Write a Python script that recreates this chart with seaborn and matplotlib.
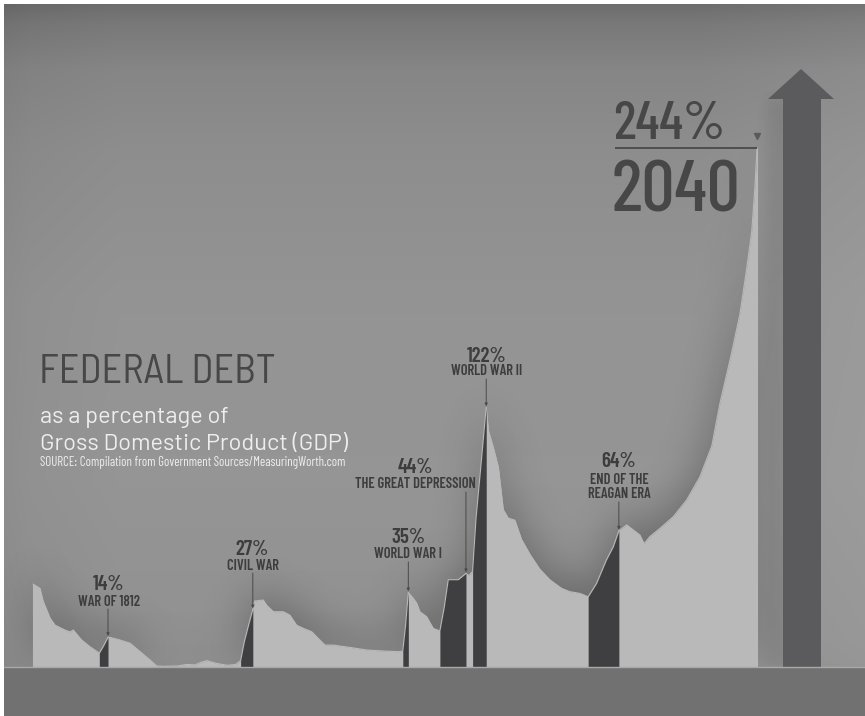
import numpy as np
import matplotlib
matplotlib.use("Agg")
import matplotlib.pyplot as plt
from matplotlib import font_manager as fm
from matplotlib.patches import Polygon, Rectangle
import seaborn as sns

# ---------------------------------------------------------------------------
# Federal debt as a share of GDP (percent), 1790 to the 2040 projection
# ---------------------------------------------------------------------------
years = [1790, 1792.4, 1793.5, 1795.9, 1797.6, 1801, 1802.8, 1803.9, 1806.8,
         1809.7, 1812.9, 1814.4, 1815.9, 1817, 1820, 1823.5, 1827, 1830.4,
         1832.7, 1835, 1840, 1843, 1846, 1848, 1850, 1853, 1857, 1860,
         1861.7, 1863, 1864.5, 1865.9, 1866.5, 1869.5, 1870.7, 1873, 1876.4,
         1878.7, 1881, 1883.3, 1886.2, 1890.8, 1893.7, 1899.5, 1905.2, 1911,
         1916.2, 1917.7, 1918.7, 1919.6, 1921.3, 1922.5, 1923.6, 1925.9,
         1928.2, 1929.4, 1930.5, 1932, 1933.4, 1936.8, 1939.5, 1940.5, 1941.8,
         1943, 1944.5, 1946.5, 1947.3, 1949, 1950.7, 1952.4, 1954.1, 1956.4,
         1958.7, 1961.6, 1965, 1968.5, 1972.5, 1975.4, 1978.9, 1981.7, 1984.6,
         1988, 1990.4, 1992.3, 1995, 1997.3, 1999.6, 2001, 2003, 2006.5,
         2011.1, 2015.7, 2020.3, 2024.4, 2027.2, 2031.2, 2034.1, 2036.4,
         2038.2, 2039.3, 2040]
debt_pct = [39, 37, 31, 23, 19.7, 17.4, 16.5, 17.4, 12.7,
            9.5, 6.5, 10, 14, 13.8, 12.7, 11.2, 7.2, 3.3,
            0.5, 0.3, 0.5, 1.2, 1.0, 2.2, 3.0, 1.8, 0.8, 1.2,
            3, 12, 20, 27, 31, 31.5, 29, 26, 26,
            24.4, 19.7, 18.2, 16.6, 10.3, 10.3, 9.2, 8, 7.5,
            7.2, 7.5, 20, 35, 32.3, 30, 26, 23.7,
            18.2, 17.5, 17, 28, 41, 41, 44, 43, 45,
            70, 92, 122, 111, 103, 94, 74, 70, 69,
            60, 53, 46, 41, 37, 35.4, 34.6, 33, 39.3,
            50.3, 56.6, 64, 66.8, 64.4, 62, 58, 61.3, 65.2,
            70.7, 78.5, 89.5, 104, 124, 147.5, 166, 187,
            205, 226, 244]

# Highlighted episodes (shaded dark under the curve)
highlight_start = [1812.9, 1861.7, 1917.7, 1930.5, 1941.8, 1981.7]
highlight_end = [1815.9, 1865.9, 1919.6, 1939.5, 1946.5, 1992.3]

# Annotated peaks
event_years = [1815.9, 1865.9, 1919.6, 1939.5, 1946.5, 1992.3]
event_values = [14, 27, 35, 44, 122, 64]
event_names = ["WAR OF 1812", "CIVIL WAR", "WORLD WAR I",
               "THE GREAT DEPRESSION", "WORLD WAR II", "END OF THE\nREAGAN ERA"]

projection_year = 2040
projection_value = 244

# ---------------------------------------------------------------------------
years_a = np.array(years, dtype=float)
debt_a = np.array(debt_pct, dtype=float)

W_PX, H_PX = 865, 716
PX_PER_YEAR = 2.896
PX_PER_PCT = 2.127
X_ORIGIN_PX = 33.0      # pixel column of 1790
BASE_PX = 667.0         # pixel row of 0 %

X0 = 1790 - X_ORIGIN_PX / PX_PER_YEAR
X1 = X0 + W_PX / PX_PER_YEAR
Y1 = BASE_PX / PX_PER_PCT
Y0 = Y1 - H_PX / PX_PER_PCT


def px_x(p):
    return X0 + p / PX_PER_YEAR


def px_y(p):
    return Y1 - p / PX_PER_PCT


sns.set_style("white")
available = set(fm.fontManager.get_font_names())


def pick(*names):
    return next((f for f in names if f in available), "DejaVu Sans")


COND = pick("Barlow Condensed", "Roboto Condensed", "Oswald", "Liberation Sans Narrow")
SEMI = pick("Barlow Semi Condensed", COND)
WIDE = pick("Barlow", "Roboto", COND)
plt.rcParams["font.family"] = [COND, "DejaVu Sans"]

fig = plt.figure(figsize=(W_PX / 100, H_PX / 100), dpi=100)
ax = fig.add_axes([0, 0, 1, 1])
ax.set_xlim(X0, X1)
ax.set_ylim(Y0, Y1)
ax.axis("off")

# ---- paper background with a darker top edge --------------------------------
rows = np.arange(H_PX) + 0.5
cols = np.arange(W_PX) + 0.5
g_row = np.interp(rows, [0, 25, 70, 150, 300, 480, 640, 716],
                  [0.42, 0.475, 0.525, 0.555, 0.58, 0.585, 0.57, 0.55])
g_col = np.interp(cols, [0, 30, 120, 700, 865], [-0.03, -0.015, 0, 0.0, 0.025])
bg = np.clip(g_row[:, None] + g_col[None, :], 0, 1)
ax.imshow(np.dstack([bg, bg, bg]), extent=[X0, X1, Y0, Y1], aspect="auto",
          zorder=0, interpolation="bilinear")


# ---- soft shadow cast above the curve and left of the arrow ------------------
def gblur(a, sigma):
    r = int(3 * sigma)
    k = np.exp(-0.5 * (np.arange(-r, r + 1) / sigma) ** 2)
    k /= k.sum()
    p = np.pad(a, ((r, r), (0, 0)), mode="edge")
    out = np.zeros_like(a)
    for i, w in enumerate(k):
        out += w * p[i:i + a.shape[0], :]
    p = np.pad(out, ((0, 0), (r, r)), mode="edge")
    out2 = np.zeros_like(a)
    for i, w in enumerate(k):
        out2 += w * p[:, i:i + a.shape[1]]
    return out2


col_years = px_x(cols)
inside = (col_years >= years_a[0]) & (col_years <= years_a[-1])
curve_row = (Y1 - np.interp(col_years, years_a, debt_a)) * PX_PER_PCT
area_mask = (rows[:, None] >= curve_row[None, :]) & (rows[:, None] <= BASE_PX) & inside[None, :]
area_f = area_mask.astype(float)
lifted = np.zeros_like(area_f)
lifted[:-12] = area_f[12:]
shade = gblur(lifted, 20) * 0.26

# arrow geometry (pixels): body 783-821, head 768-833, apex row 69, head base row 99
arrow_mask = np.zeros_like(area_f)
arrow_mask[99:int(BASE_PX), 783:821] = 1
shifted_arrow = np.zeros_like(arrow_mask)
shifted_arrow[:, :-16] = arrow_mask[:, 16:]
shade += gblur(shifted_arrow, 6) * 0.08
shade *= (1 - area_f) * (rows[:, None] <= BASE_PX)
shade = np.clip(shade, 0, 0.5)
shadow_rgba = np.zeros((H_PX, W_PX, 4))
shadow_rgba[..., 3] = shade
ax.imshow(shadow_rgba, extent=[X0, X1, Y0, Y1], aspect="auto", zorder=1,
          interpolation="bilinear")

# ---- the debt area ------------------------------------------------------------
AREA = "#b9b9b9"
DARK = "#3f3f41"
ax.fill_between(years_a, 0, debt_a, color=AREA, lw=0, zorder=2)
sns.lineplot(x=years_a, y=debt_a, ax=ax, color=AREA, lw=0.8, zorder=2,
             estimator=None, sort=False)
ax.vlines([years_a[0], years_a[-1]], 0, [debt_a[0], debt_a[-1]], color=AREA,
          lw=0.8, zorder=2)
for s, e in zip(highlight_start, highlight_end):
    sel = (years_a >= s - 1e-9) & (years_a <= e + 1e-9)
    ax.fill_between(years_a[sel], 0, debt_a[sel], color=DARK, lw=0, zorder=3)

# ---- floor --------------------------------------------------------------------
ax.add_patch(Rectangle((X0, Y0), X1 - X0, -Y0, color="#717171", lw=0, zorder=4))
ax.axhline(0, color="#a9a9a9", lw=1.0, zorder=5)

# ---- big arrow ----------------------------------------------------------------
ARROW = "#5b5b5e"
arrow_pts = [(px_x(783), 0), (px_x(783), px_y(99)), (px_x(768), px_y(99)),
             (px_x(801), px_y(69)), (px_x(834), px_y(99)), (px_x(821), px_y(99)),
             (px_x(821), 0)]
ax.add_patch(Polygon(arrow_pts, closed=True, color=ARROW, lw=0, zorder=4.5))

# ---- annotations --------------------------------------------------------------
INK = "#3d3d3d"
label_centers_px = [108.5, 252.5, 408, 415, 486.5, 619]
lead_top_px = [609, 573, 562, 492, 379, 502]
pct_baselines_px = [590, 555, 543, 473, 361.7, 467]
name_baselines_px = [606.5, 570, 558, 488, 375, 498]

for yr, val, name, cx, lt, pb, nb in zip(event_years, event_values, event_names,
                                         label_centers_px, lead_top_px,
                                         pct_baselines_px, name_baselines_px):
    ax.text(px_x(cx), px_y(pb), f"{val}%", ha="center", va="baseline",
            fontsize=15, fontweight="semibold", color=INK, zorder=6)
    ax.text(px_x(cx), px_y(nb), name, ha="center", va="baseline",
            fontsize=10.5, fontweight="semibold", color=INK, zorder=6,
            linespacing=1.0)
    ax.annotate("", xy=(yr, val + 0.6), xytext=(yr, px_y(lt)),
                arrowprops=dict(arrowstyle="-|>", color="#4a4a4a", lw=0.7,
                                mutation_scale=4, shrinkA=0, shrinkB=0),
                zorder=6)

# projection call-out
ax.text(px_x(613), px_y(139.3), f"{projection_value}%", ha="left", va="baseline",
        fontsize=39, fontweight="medium", color="#474747", zorder=6)
ax.text(px_x(612), px_y(211.7), f"{projection_year}", ha="left", va="baseline",
        fontsize=53, fontweight="medium", color="#474747", zorder=6)
ax.plot([px_x(615), projection_year], [projection_value, projection_value],
        color="#4a4a4a", lw=1.3, zorder=6, solid_capstyle="butt")
ax.plot([projection_year], [projection_value + 5.5], marker="v", ms=4,
        color="#5a5a5a", zorder=6)

# title block
ax.text(px_x(39), px_y(382.7), "FEDERAL DEBT", ha="left", va="baseline",
        fontsize=29, family=[SEMI, "DejaVu Sans"], color="#474747", zorder=6)
ax.text(px_x(40), px_y(422.7), "as a percentage of", ha="left", va="baseline",
        fontsize=17, family=[WIDE, "DejaVu Sans"], color="#eeeeee", zorder=6)
ax.text(px_x(40), px_y(450), "Gross Domestic Product (GDP)", ha="left",
        va="baseline", fontsize=17, family=[WIDE, "DejaVu Sans"], color="#eeeeee",
        zorder=6)
ax.text(px_x(40.5), px_y(466), "SOURCE: Compilation from Government Sources/MeasuringWorth.com",
        ha="left", va="baseline", fontsize=9.3, color="#eeeeee", zorder=6)

# thin white margin on the top and left edges
fig.patches.append(Rectangle((0, 1 - 4 / H_PX), 1, 4 / H_PX, transform=fig.transFigure,
                             color="white", lw=0, zorder=10))
fig.patches.append(Rectangle((0, 0), 4 / W_PX, 1, transform=fig.transFigure,
                             color="white", lw=0, zorder=10))

fig.savefig("out.png", dpi=100)
